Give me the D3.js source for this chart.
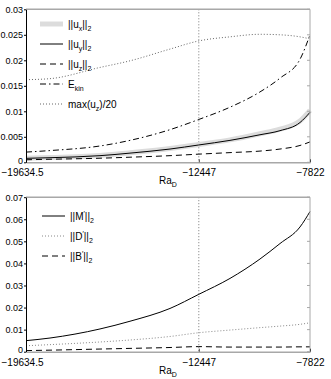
<!DOCTYPE html>
<html lang="en">
<head>
<meta charset="UTF-8">
<title>Norms vs Ra_D</title>
<script src="https://d3js.org/d3.v7.min.js"></script>
<style>
    body{ margin:0; background:white; }
    svg{ display:block; font-family:"Liberation Sans", Arial, sans-serif; }
</style>
</head>
<body>
<script>
// x positions (Ra_D) shared by every curve
const raVals = [-19634.5, -18636, -16557, -15309, -13645, -12447, -11150, -9902, -9070, -8238, -7822];

// top panel series
const uxVals   = [0.0008, 0.00092, 0.00134, 0.00186, 0.0027, 0.0035, 0.0044, 0.0056, 0.0065, 0.0081, 0.0102];
const uyVals   = [0.00078, 0.0009, 0.0013, 0.0018, 0.0026, 0.0034, 0.0043, 0.0054, 0.0062, 0.0078, 0.0098];
const uzVals   = [0.0005, 0.0006, 0.0008, 0.0010, 0.0013, 0.0016, 0.0019, 0.0022, 0.0026, 0.0033, 0.0040];
const ekinVals = [0.0020, 0.0023, 0.0032, 0.0043, 0.0064, 0.0084, 0.0108, 0.0138, 0.0165, 0.0202, 0.0250];
const maxUzVals= [0.0162, 0.0164, 0.0186, 0.0199, 0.0222, 0.0238, 0.0246, 0.0251, 0.0250, 0.0246, 0.0242];

// bottom panel series
const mVals = [0.0050, 0.0062, 0.0103, 0.0138, 0.0196, 0.0260, 0.0332, 0.0420, 0.0490, 0.0565, 0.0635];
const dVals = [0.0027, 0.0032, 0.0044, 0.0053, 0.0069, 0.0086, 0.0098, 0.0109, 0.0116, 0.0124, 0.0131];
const bVals = [0.0005, 0.0007, 0.0012, 0.0015, 0.0019, 0.0023, 0.0021, 0.0021, 0.0021, 0.0022, 0.0022];

const xTicks = [-19634.5, -12447, -7822];
const yTicksTop = [0, 0.005, 0.01, 0.015, 0.02, 0.025, 0.03];
const yTicksBot = [0, 0.01, 0.02, 0.03, 0.04, 0.05, 0.06, 0.07];
const markRa = -12447;

const w = 331, h = 379;
const left = 26, right = 310;
const boxColor = "#a8a8a8";

const svg = d3.select("body").append("svg").attr("width", w).attr("height", h);
svg.append("rect").attr("width", w).attr("height", h).attr("fill", "white");

const xScale = d3.scaleLinear().domain([xTicks[0], xTicks[2]]).range([left, right]);
const minus = s => String(s).replace("-", "\u2212");

function label(g, x, y, parts, anchor){
    const t = g.append("text").attr("x", x).attr("y", y).attr("font-size", 10)
        .attr("text-anchor", anchor || "start");
    let shift = 0;
    parts.forEach(p => {
        const s = t.append("tspan").text(p[0]);
        let target = 0;
        if(p[1] === "sub"){ target = 3; s.attr("font-size", 7); }
        if(p[1] === "sup"){ target = -4; s.attr("font-size", 7); }
        s.attr("dy", target - shift);
        shift = target;
    });
    return t;
}

function panel(top, bottom, yMax, yTicks, series, legend, legendX, legendY){
    const yScale = d3.scaleLinear().domain([0, yMax]).range([bottom, top]);
    const g = svg.append("g");

    // vertical dotted marker
    g.append("line").attr("x1", xScale(markRa)).attr("x2", xScale(markRa))
        .attr("y1", top).attr("y2", bottom)
        .attr("stroke", "#777").attr("stroke-width", 1).attr("stroke-dasharray", "1,2");

    // curves
    const line = d3.line().x((d, i) => xScale(raVals[i])).y(d => yScale(d)).curve(d3.curveMonotoneX);
    series.forEach(s => {
        g.append("path").datum(s.values).attr("d", line).attr("fill", "none")
            .attr("stroke", s.color).attr("stroke-width", s.width)
            .attr("stroke-dasharray", s.dash || null);
    });

    // box (grey) top, right
    g.append("line").attr("x1", left).attr("x2", right).attr("y1", top).attr("y2", top)
        .attr("stroke", boxColor).attr("stroke-width", 1.5);
    g.append("line").attr("x1", right).attr("x2", right).attr("y1", top).attr("y2", bottom)
        .attr("stroke", boxColor).attr("stroke-width", 1);

    // right ticks
    g.selectAll(".rt").data(yTicks).enter().append("line")
        .attr("x1", right - 3).attr("x2", right)
        .attr("y1", d => yScale(d)).attr("y2", d => yScale(d))
        .attr("stroke", boxColor);

    // bottom axis
    const xAxis = d3.axisBottom(xScale).tickValues(xTicks).tickSizeInner(-3).tickSizeOuter(0)
        .tickPadding(7).tickFormat(minus);
    const xg = g.append("g").attr("transform", "translate(0," + bottom + ")").call(xAxis);
    xg.select(".domain").attr("stroke", boxColor).attr("stroke-width", 1.5);
    xg.selectAll(".tick line").attr("stroke", "#444");
    xg.selectAll(".tick text").attr("font-size", 10).attr("font-family", null).attr("fill", "#000");
    xg.selectAll(".tick text").filter(d => d === xTicks[0]).attr("dx", -4);

    // left axis
    const yAxis = d3.axisLeft(yScale).tickValues(yTicks).tickSizeInner(2).tickSizeOuter(0)
        .tickPadding(1).tickFormat(d => String(d));
    const yg = g.append("g").attr("transform", "translate(" + left + ",0)").call(yAxis);
    yg.select(".domain").attr("stroke", "#000");
    yg.selectAll(".tick text").attr("font-size", 9).attr("font-family", null).attr("fill", "#000");
    yg.selectAll(".tick text").filter(d => d === 0).attr("dy", "0.1em");

    // x label
    label(g, 159, bottom + 22, [["Ra", null], ["D", "sub"]]);

    // legend
    legend.forEach((l, i) => {
        const y = legendY[i];
        g.append("line").attr("x1", legendX).attr("x2", legendX + 23).attr("y1", y).attr("y2", y)
            .attr("stroke", l.color).attr("stroke-width", l.width).attr("stroke-dasharray", l.dash || null);
        label(g, legendX + 28, y + 3.5, l.text);
    });
}

const topSeries = [
    {values: uxVals, color: "#dcdcdc", width: 5},
    {values: uyVals, color: "#000", width: 1},
    {values: uzVals, color: "#000", width: 1, dash: "6,4"},
    {values: ekinVals, color: "#000", width: 1, dash: "6,3,1.5,3"},
    {values: maxUzVals, color: "#666", width: 1, dash: "1,2"}
];
const topLegend = [
    {color: "#dcdcdc", width: 5, text: [["||u", null], ["x", "sub"], ["||", null], ["2", "sub"]]},
    {color: "#000", width: 1, text: [["||u", null], ["y", "sub"], ["||", null], ["2", "sub"]]},
    {color: "#000", width: 1, dash: "6,4", text: [["||u", null], ["z", "sub"], ["||", null], ["2", "sub"]]},
    {color: "#000", width: 1, dash: "6,3,1.5,3", text: [["E", null], ["kin", "sub"]]},
    {color: "#666", width: 1, dash: "1,2", text: [["max(u", null], ["z", "sub"], [")/20", null]]}
];
panel(9.3, 162.3, 0.03, yTicksTop, topSeries, topLegend, 40, [24, 44, 64, 84, 104]);

const botSeries = [
    {values: mVals, color: "#000", width: 1},
    {values: dVals, color: "#888", width: 1, dash: "1,2"},
    {values: bVals, color: "#000", width: 1, dash: "6,4"}
];
const botLegend = [
    {color: "#000", width: 1, text: [["||M", null], ["\u2032", "sup"], ["||", null], ["2", "sub"]]},
    {color: "#888", width: 1, dash: "1,2", text: [["||D", null], ["\u2032", "sup"], ["||", null], ["2", "sub"]]},
    {color: "#000", width: 1, dash: "6,4", text: [["||B", null], ["\u2032", "sup"], ["||", null], ["2", "sub"]]}
];
panel(197.2, 351.7, 0.07, yTicksBot, botSeries, botLegend, 42, [216, 236, 256]);
</script>
</body>
</html>
